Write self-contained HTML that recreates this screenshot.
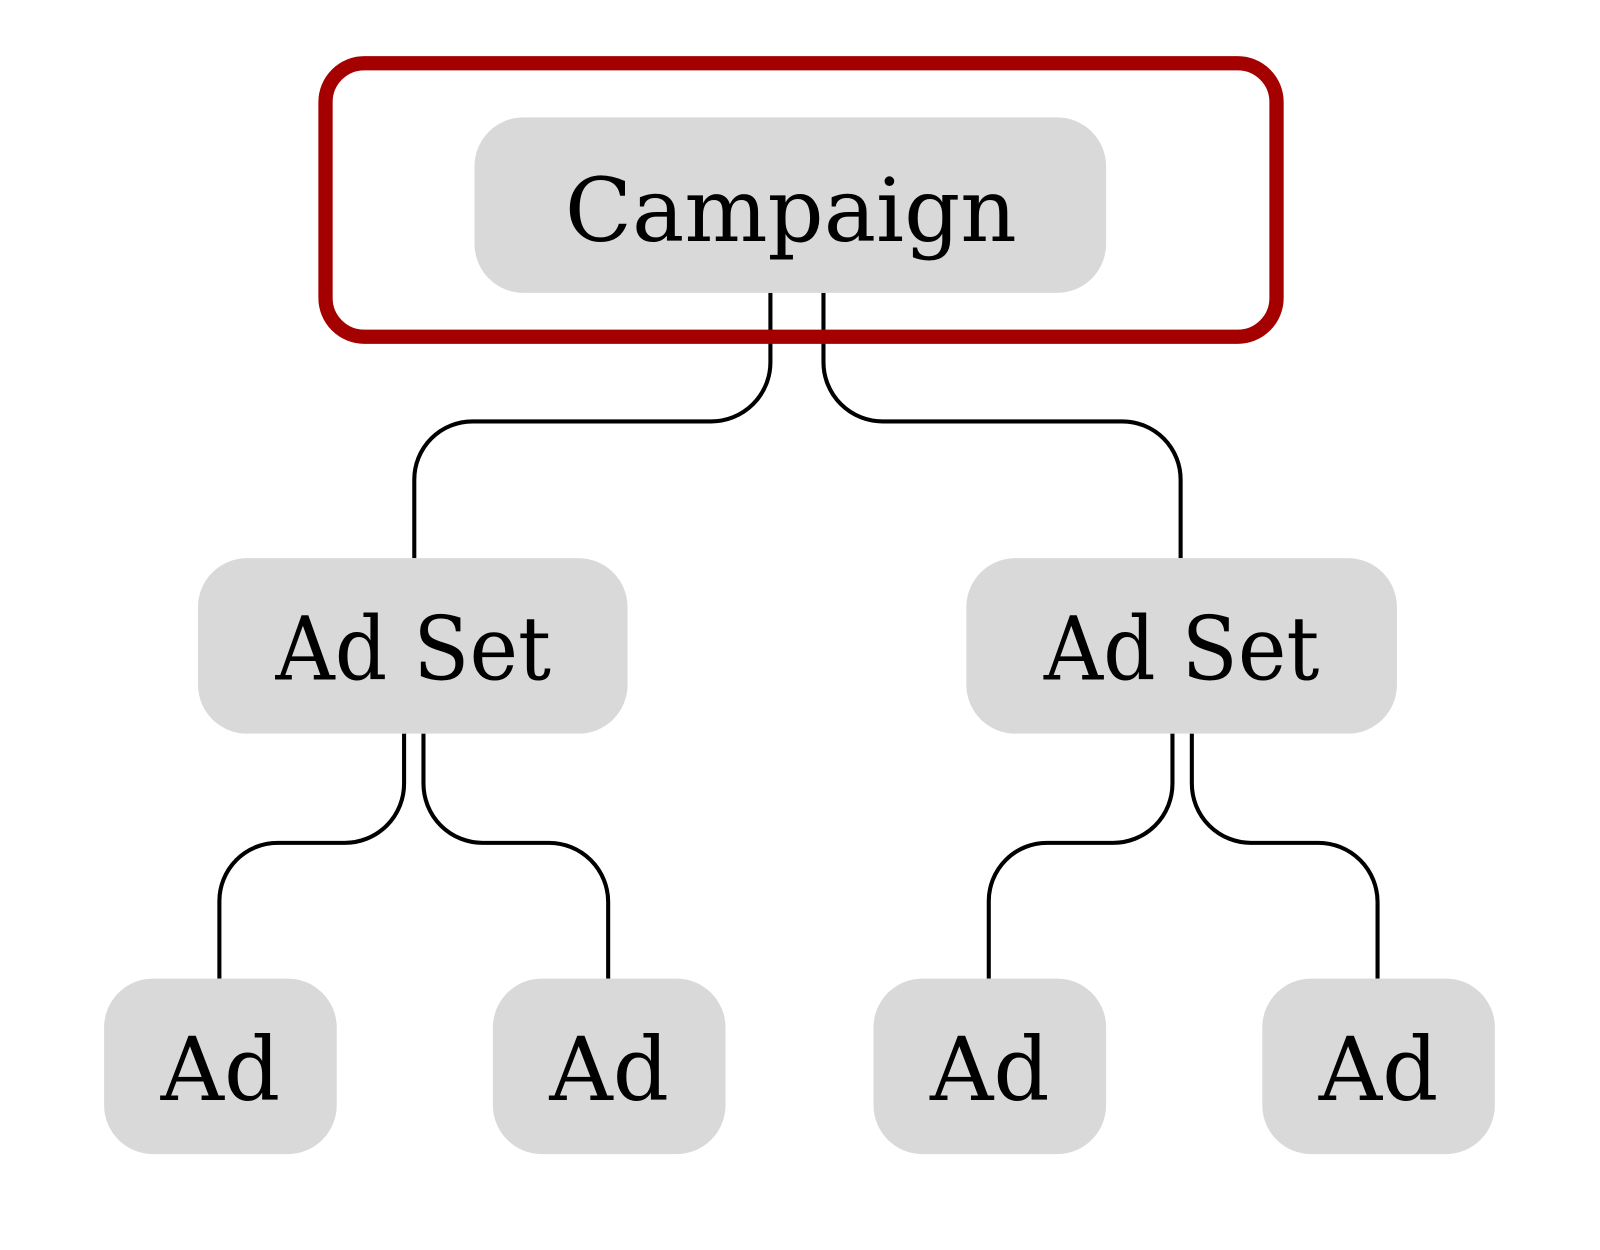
<!DOCTYPE html>
<html><head><meta charset="utf-8"><style>
html,body{margin:0;padding:0;background:#fff;}
svg{display:block;}
text{font-family:"DejaVu Serif","Liberation Serif",serif;fill:#000;}
</style></head><body>
<svg width="1600" height="1250" viewBox="0 0 1568 1225" xmlns="http://www.w3.org/2000/svg">
<rect x="0" y="0" width="1568" height="1225" fill="#fff"/>
<g fill="none" stroke="#000" stroke-width="4">
<path d="M755 287 V355 A58 58 0 0 1 697 413 H463 A57 57 0 0 0 406 470 V547"/>
<path d="M807 287 V355 A58 58 0 0 0 865 413 H1100 A57 57 0 0 1 1157 470 V547"/>
<path d="M396 719 V768 A58 58 0 0 1 338 826 H272 A57 57 0 0 0 215 883 V959"/>
<path d="M415 719 V768 A58 58 0 0 0 473 826 H538 A58 58 0 0 1 596 884 V959"/>
<path d="M1149 719 V768 A58 58 0 0 1 1091 826 H1026 A57 57 0 0 0 969 883 V959"/>
<path d="M1168 719 V768 A58 58 0 0 0 1226 826 H1292 A58 58 0 0 1 1350 884 V959"/>
</g>
<rect x="319" y="62" width="932" height="268" rx="38" fill="none" stroke="#a50000" stroke-width="14"/>
<g fill="#d9d9d9">
<rect x="465" y="115" width="619" height="172" rx="48"/>
<rect x="194" y="547" width="421" height="172" rx="48"/>
<rect x="947" y="547" width="422" height="172" rx="48"/>
<rect x="102" y="959" width="228" height="172" rx="48"/>
<rect x="483" y="959" width="228" height="172" rx="48"/>
<rect x="856" y="959" width="228" height="172" rx="48"/>
<rect x="1237" y="959" width="228" height="172" rx="48"/>
</g>
<g font-size="86" text-anchor="middle">
<text x="775" y="236">Campaign</text>
<text x="405" y="666" textLength="270" lengthAdjust="spacingAndGlyphs">Ad Set</text>
<text x="1158" y="666" textLength="270" lengthAdjust="spacingAndGlyphs">Ad Set</text>
<text x="216" y="1078">Ad</text>
<text x="597" y="1078">Ad</text>
<text x="970" y="1078">Ad</text>
<text x="1351" y="1078">Ad</text>
</g>
</svg>
</body></html>
